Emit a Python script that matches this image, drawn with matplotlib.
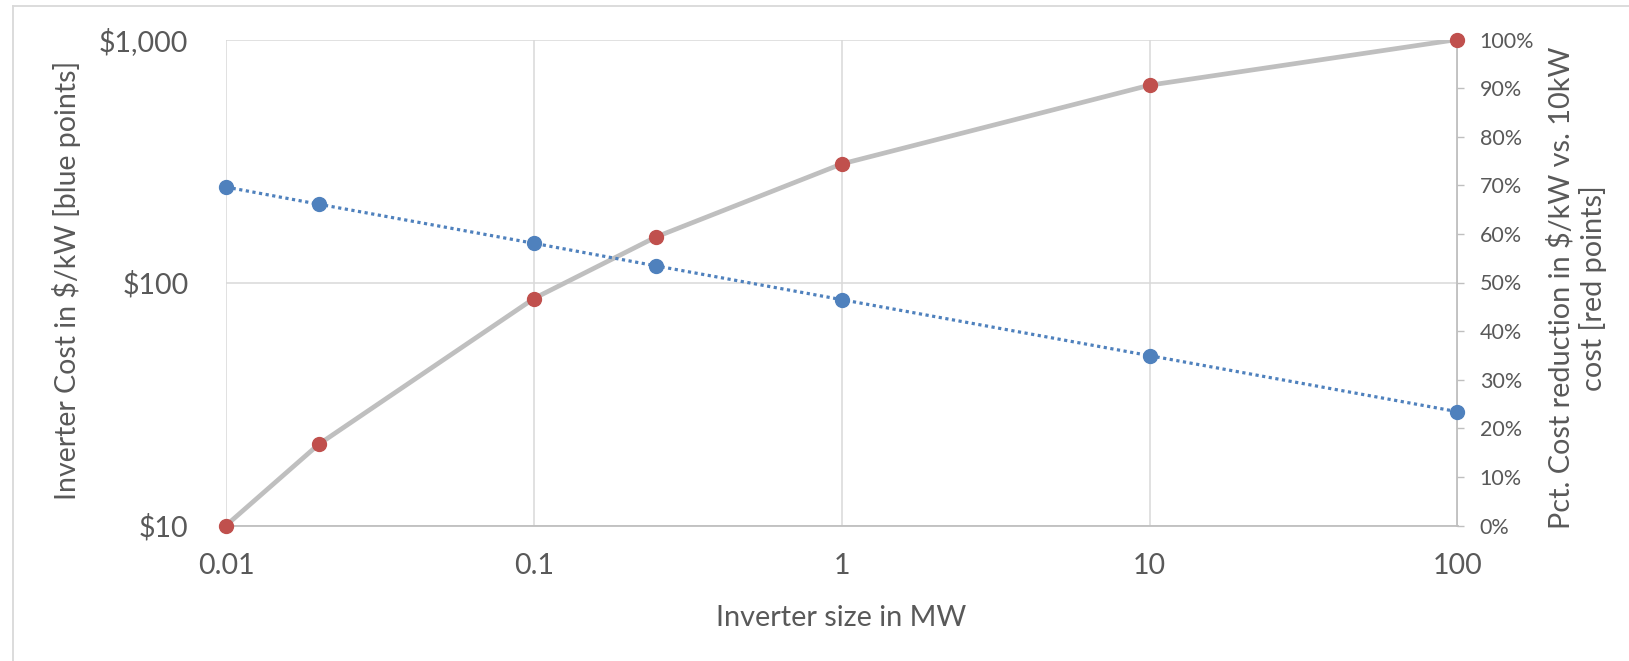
import matplotlib
matplotlib.use("Agg")
import matplotlib.pyplot as plt
import numpy as np
from matplotlib.lines import Line2D
from matplotlib.ticker import NullLocator

plt.rcParams['font.family'] = ['Lato', 'DejaVu Sans']
plt.rcParams['text.parse_math'] = False

# data
sizes_mw = [0.01, 0.02, 0.1, 0.25, 1, 10, 100]
cost_per_kw = [247, 210, 145, 117, 85, 50, 29.4]          # blue points, left axis
pct_reduction = [0.0, 0.167, 0.467, 0.594, 0.744, 0.906, 1.0]  # red points, right axis

x_ticks = [0.01, 0.1, 1, 10, 100]
x_tick_labels = ['0.01', '0.1', '1', '10', '100']
cost_ticks = [10, 100, 1000]
cost_tick_labels = ['$10', '$100', '$1,000']
pct_ticks = np.arange(0, 11) / 10
pct_tick_labels = [f'{int(round(v * 100))}%' for v in pct_ticks]

TXT = '#595959'
GRID = '#D9D9D9'
AXLINE = '#BFBFBF'
BLUE = '#4F81BD'
RED = '#C0504D'

W, H = 1629, 661
fig = plt.figure(figsize=(W / 100, H / 100), dpi=100)
ax = fig.add_axes([226 / W, 1 - 525.5 / H, 1231.5 / W, 486 / H])
ax2 = ax.twinx()

# outer chart border (only left and top edges are visible)
fig.add_artist(Line2D([12.5 / W, 12.5 / W], [0, 1 - 6 / H], color=GRID, lw=1.3))
fig.add_artist(Line2D([12.5 / W, 1], [1 - 6 / H, 1 - 6 / H], color=GRID, lw=1.3))

# primary axis: log-log
ax.set_xscale('log')
ax.set_yscale('log')
ax.set_xticks(x_ticks)
ax.set_xticklabels(x_tick_labels)
ax.set_yticks(cost_ticks)
ax.set_yticklabels(cost_tick_labels)
ax.xaxis.set_minor_locator(NullLocator())
ax.yaxis.set_minor_locator(NullLocator())
ax.grid(True, color=GRID, lw=1.1)
ax.set_axisbelow(True)
ax.tick_params(axis='x', length=0, pad=20, labelsize=20.5, labelcolor=TXT)
ax.tick_params(axis='y', length=0, pad=27, labelsize=20.5, labelcolor=TXT)
for s in ['top', 'right', 'left']:
    ax.spines[s].set_visible(False)
ax.spines['bottom'].set_color(AXLINE)
ax.spines['bottom'].set_linewidth(1.3)

# secondary axis: percent
ax2.set_yticks(pct_ticks)
ax2.set_yticklabels(pct_tick_labels)
ax2.yaxis.set_minor_locator(NullLocator())
ax2.tick_params(axis='y', length=5, width=1, color=AXLINE, pad=11,
                labelsize=15.5, labelcolor=TXT)
for s in ['top', 'left', 'bottom']:
    ax2.spines[s].set_visible(False)
ax2.spines['right'].set_color(AXLINE)
ax2.spines['right'].set_linewidth(1.3)

# grey line through the red points
ax2.plot(sizes_mw, pct_reduction, color=AXLINE, lw=3.4, solid_joinstyle='round',
         solid_capstyle='round', zorder=2)

# blue series (drawn in the left-axis coordinates, on top of the grey line)
ax2.plot(sizes_mw, cost_per_kw, transform=ax.transData, color=BLUE, lw=2.3,
         linestyle=(0, (1, 1.1)), marker='o', ms=10, mfc=BLUE, mec=BLUE,
         zorder=3, clip_on=False)

# red points
ax2.plot(sizes_mw, pct_reduction, 'o', ms=10, color=RED, zorder=4, clip_on=False)

ax.set_xlim(0.01, 100)
ax.set_ylim(10, 1000)
ax2.set_ylim(0, 1)

# axis titles
fig.text(841 / W, 1 - 626 / H, 'Inverter size in MW', ha='center', va='baseline',
         fontsize=20.8, color=TXT)
fig.text(67 / W, 1 - 280 / H, 'Inverter Cost in $/kW [blue points]', rotation=90,
         ha='center', va='center', fontsize=20.5, color=TXT)
fig.text(1577 / W, 1 - 288 / H, 'Pct. Cost reduction in $/kW vs. 10kW\ncost [red points]',
         rotation=90, ha='center', va='center', multialignment='center',
         fontsize=20.8, color=TXT, linespacing=1.2)

fig.savefig('out.png', dpi=100)
